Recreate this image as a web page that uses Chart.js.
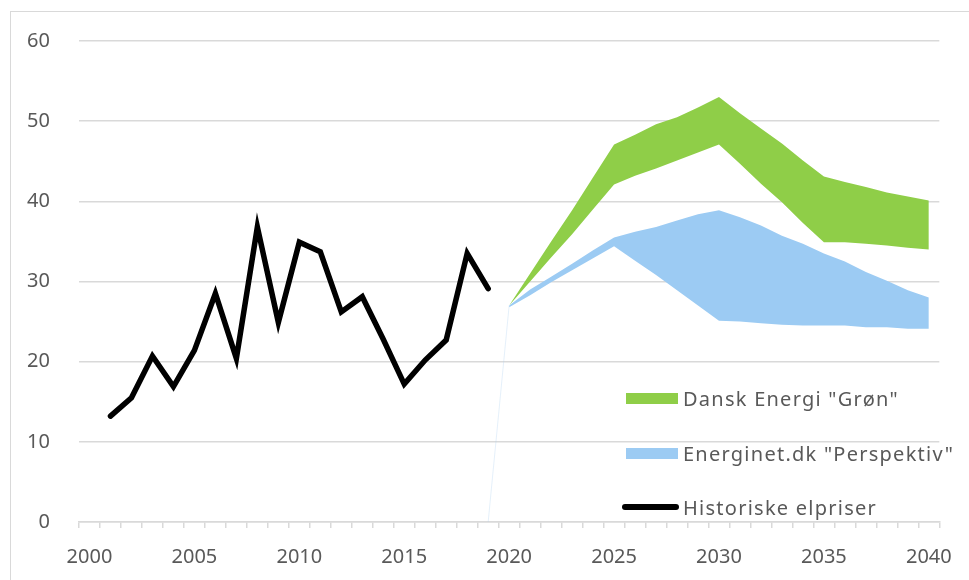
<!DOCTYPE html>
<html lang="da">
<head>
<meta charset="UTF-8">
<title>Elpriser</title>
<script src="https://cdn.jsdelivr.net/npm/chart.js"></script>
<style>
  body { margin: 0; width: 969px; height: 580px; overflow: hidden; background: #fff; font-family: "Noto Sans", sans-serif; }
  #frame { position: absolute; left: 10px; top: 11px; width: 990px; height: 600px; border: 1px solid #d9d9d9; }
  #chart { position: absolute; left: 0; top: 0; }
  .item { position: absolute; left: 622px; height: 24px; display: flex; align-items: center; white-space: nowrap;
          color: #595959; font-size: 20px; letter-spacing: 1.25px; }
  .swatch { width: 52px; height: 11px; margin-left: 4px; margin-right: 5px; }
  .lineswatch { width: 57px; height: 6px; border-radius: 3px; background: #000; margin-right: 4px; }
</style>
</head>
<body>
<div id="frame"></div>
<canvas id="chart" width="969" height="580"></canvas>

<div class="item" style="top:386px"><span class="swatch" style="background:#8fce48"></span>Dansk Energi "Grøn"</div>
<div class="item" style="top:441px"><span class="swatch" style="background:#9ccbf3"></span>Energinet.dk "Perspektiv"</div>
<div class="item" style="top:495px"><span class="lineswatch"></span>Historiske elpriser</div>

<script>
// years on the axis
const years = [];
for (let y = 2000; y <= 2040; y++) years.push(y);

// historic prices 2001-2019
const historic = [13.2, 15.5, 20.7, 16.9, 21.4, 28.5, 20.4, 36.8, 24.9, 34.9,
                  33.7, 26.2, 28.1, 22.8, 17.2, 20.2, 22.7, 33.5, 29.1];

// forecasts 2020-2040
const gronLow  = [27.0, 30.0, 33.0, 35.9, 39.0, 42.1, 43.2, 44.1, 45.1, 46.1, 47.1,
                  44.7, 42.2, 39.9, 37.3, 34.9, 34.9, 34.7, 34.5, 34.2, 34.0];
const gronHigh = [27.0, 31.0, 35.0, 38.9, 43.0, 47.1, 48.3, 49.6, 50.5, 51.7, 53.0,
                  51.0, 49.1, 47.2, 45.1, 43.1, 42.4, 41.8, 41.1, 40.6, 40.1];
const perspLow  = [26.8, 28.3, 29.9, 31.4, 32.9, 34.4, 32.6, 30.8, 28.9, 27.0, 25.1,
                   25.0, 24.8, 24.6, 24.5, 24.5, 24.5, 24.3, 24.3, 24.1, 24.1];
const perspHigh = [27.0, 29.0, 30.6, 32.2, 33.9, 35.5, 36.2, 36.8, 37.6, 38.4, 38.9,
                   38.0, 37.0, 35.7, 34.7, 33.5, 32.5, 31.2, 30.1, 28.9, 28.0];

// faint base line 2019 -> 2020
const bridge = [0, 27.0];

const yTicks = [0, 10, 20, 30, 40, 50, 60];

const pad = (before, arr) => Array(before).fill(null).concat(arr, Array(years.length - before - arr.length).fill(null));

const green = '#8fce48';
const blue = '#9ccbf3';

const band = (data, fill, color) => ({
    data: data,
    borderWidth: 0,
    pointRadius: 0,
    fill: fill,
    backgroundColor: color,
    borderColor: 'transparent',
    order: 3
});

new Chart(document.getElementById('chart'), {
    type: 'line',
    data: {
        labels: years,
        datasets: [
            {
                label: 'Historiske elpriser',
                data: pad(1, historic),
                borderColor: '#000',
                borderWidth: 5.5,
                borderCapStyle: 'round',
                borderJoinStyle: 'miter',
                pointRadius: 0,
                fill: false,
                order: 1
            },
            {
                label: 'bridge',
                data: pad(19, bridge),
                borderColor: 'rgba(170,205,240,0.3)',
                borderWidth: 1,
                pointRadius: 0,
                fill: false,
                order: 2
            },
            band(pad(20, gronLow), false, green),
            band(pad(20, gronHigh), '-1', green),
            band(pad(20, perspLow), false, blue),
            band(pad(20, perspHigh), '-1', blue)
        ]
    },
    options: {
        responsive: false,
        animation: false,
        devicePixelRatio: 1,
        layout: { padding: { top: 40, right: 25, bottom: 0, left: 0 } },
        plugins: {
            legend: { display: false },
            tooltip: { enabled: false }
        },
        scales: {
            x: {
                type: 'category',
                offset: true,
                afterFit: s => { s.height = 58; },
                grid: {
                    offset: true,
                    drawOnChartArea: false,
                    drawTicks: true,
                    tickLength: 6,
                    color: '#d9d9d9',
                    lineWidth: 1.5
                },
                border: { color: '#d9d9d9', width: 1.5 },
                ticks: {
                    autoSkip: false,
                    maxRotation: 0,
                    padding: 17,
                    color: '#595959',
                    font: { family: 'Noto Sans', size: 20 },
                    callback: function (v, i) {
                        const y = years[i];
                        return y % 5 === 0 ? String(y) : '';
                    }
                }
            },
            y: {
                min: 0,
                max: 60,
                afterFit: s => { s.width = 79; },
                afterBuildTicks: s => { s.ticks = yTicks.map(v => ({ value: v })); },
                grid: { color: '#d9d9d9', lineWidth: 1.5, drawTicks: false },
                border: { display: false },
                ticks: {
                    padding: 29,
                    color: '#595959',
                    font: { family: 'Noto Sans', size: 20 }
                }
            }
        }
    }
});
</script>
</body>
</html>
